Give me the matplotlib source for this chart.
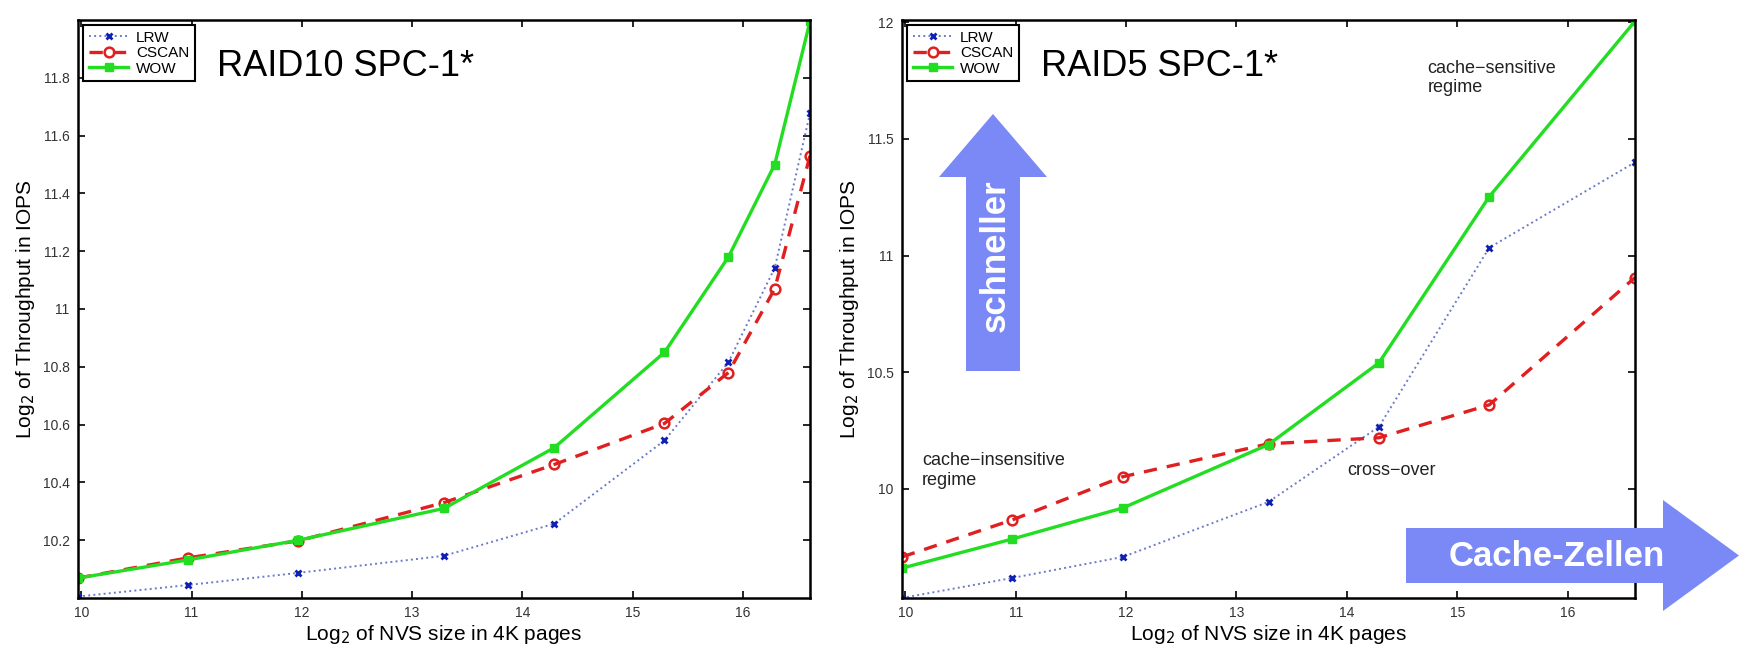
import matplotlib
matplotlib.use("Agg")
from matplotlib import pyplot as plt
from matplotlib.patches import Polygon

plt.rcParams['font.family'] = ['Liberation Sans', 'DejaVu Sans']

# x values: log2 of NVS size (pages)
nvs = [9.97, 10.97, 11.97, 13.29, 14.29, 15.29, 15.87, 16.29, 16.61]
nvs5 = [9.97, 10.97, 11.97, 13.29, 14.29, 15.29, 16.61]

# RAID10 SPC-1* (log2 IOPS)
lrw10 = [10.005, 10.045, 10.087, 10.146, 10.257, 10.545, 10.816, 11.142, 11.677]
cscan10 = [10.069, 10.139, 10.198, 10.33, 10.462, 10.604, 10.78, 11.07, 11.53]
wow10 = [10.069, 10.132, 10.2, 10.31, 10.52, 10.85, 11.18, 11.50, 11.995]

# RAID5 SPC-1*
lrw5 = [9.532, 9.618, 9.708, 9.944, 10.266, 11.034, 11.40]
cscan5 = [9.708, 9.867, 10.052, 10.193, 10.219, 10.36, 10.906]
wow5 = [9.66, 9.785, 9.918, 10.19, 10.54, 11.253, 12.005]

xticks = [10, 11, 12, 13, 14, 15, 16]
yticks10 = [10.2, 10.4, 10.6, 10.8, 11, 11.2, 11.4, 11.6, 11.8]
yticks5 = [10, 10.5, 11, 11.5, 12]

W, H = 1739, 650
fig = plt.figure(figsize=(W / 100, H / 100), dpi=100)

ax1 = fig.add_axes([78 / W, 52 / H, 732 / W, 578 / H])
ax2 = fig.add_axes([902 / W, 52 / H, 733 / W, 578 / H])


def draw(ax, x, lrw, cscan, wow, yticks, ylim, title):
    ax.plot(x, lrw, linestyle=':', color='#6a7cc8', lw=1.4, marker='x',
            ms=5, mew=2, markeredgecolor='#1020b0', label='LRW')
    ax.plot(x, cscan, linestyle='--', color='#e02020', lw=2.4, marker='o',
            ms=7, mew=1.8, markerfacecolor='none', markeredgecolor='#e02020',
            dashes=(4, 3), label='CSCAN')
    ax.plot(x, wow, linestyle='-', color='#22dd22', lw=2.4, marker='s',
            ms=6, markerfacecolor='#22dd22', label='WOW')
    ax.set_xlim(x[0], x[-1])
    ax.set_ylim(*ylim)
    ax.set_xticks(xticks)
    ax.set_yticks(yticks)
    ax.set_yticklabels(['%g' % v for v in yticks])
    ax.tick_params(direction='in', top=True, right=True, length=5, width=1.2,
                   labelsize=10, labelcolor='#333333', pad=6)
    for s in ax.spines.values():
        s.set_linewidth(1.8)
    ax.set_xlabel('Log$_2$ of NVS size in 4K pages', fontsize=15, labelpad=2)
    ax.set_ylabel('Log$_2$ of Throughput in IOPS', fontsize=15, labelpad=4)
    leg = ax.legend(loc='upper left', fontsize=11, handlelength=2.6,
                    labelspacing=0.1, borderpad=0.35, handletextpad=0.5,
                    fancybox=False, framealpha=1, borderaxespad=0.35)
    leg.get_frame().set_edgecolor('black')
    leg.get_frame().set_linewidth(1.5)
    ax.text(0.19, 0.95, title, transform=ax.transAxes,
            fontsize=26, va='top', ha='left')


draw(ax1, nvs, lrw10, cscan10, wow10, yticks10, (10.0, 12.0), 'RAID10 SPC-1*')
draw(ax2, nvs5, lrw5, cscan5, wow5, yticks5, (9.532, 12.01), 'RAID5 SPC-1*')

ax2.text(10.15, 10.0, 'cache\u2212insensitive\nregime', fontsize=13,
         color='#222222', va='bottom', linespacing=1.2)
ax2.text(14.0, 10.08, 'cross\u2212over', fontsize=13, color='#222222',
         va='center')
ax2.text(14.73, 11.84, 'cache\u2212sensitive\nregime', fontsize=13,
         color='#222222', va='top', linespacing=1.2)

# overlay in pixel coords for the two arrows
ov = fig.add_axes([0, 0, 1, 1], zorder=10)
ov.set_xlim(0, W)
ov.set_ylim(H, 0)
ov.axis('off')
ov.patch.set_visible(False)
arrow_col = '#7a89f5'
up = [(966, 371), (966, 177), (939, 177), (993, 114), (1047, 177),
      (1020, 177), (1020, 371)]
right = [(1406, 528), (1663, 528), (1663, 500), (1739, 555.5), (1663, 611),
         (1663, 583), (1406, 583)]
ov.add_patch(Polygon(up, closed=True, color=arrow_col, lw=0))
ov.add_patch(Polygon(right, closed=True, color=arrow_col, lw=0))
ov.text(995, 256, 'schneller', rotation=90, color='white', fontsize=25,
        fontweight='bold', ha='center', va='center')
ov.text(1557, 556, 'Cache-Zellen', color='white', fontsize=25,
        fontweight='bold', ha='center', va='center')

fig.savefig('out.png', dpi=100)
